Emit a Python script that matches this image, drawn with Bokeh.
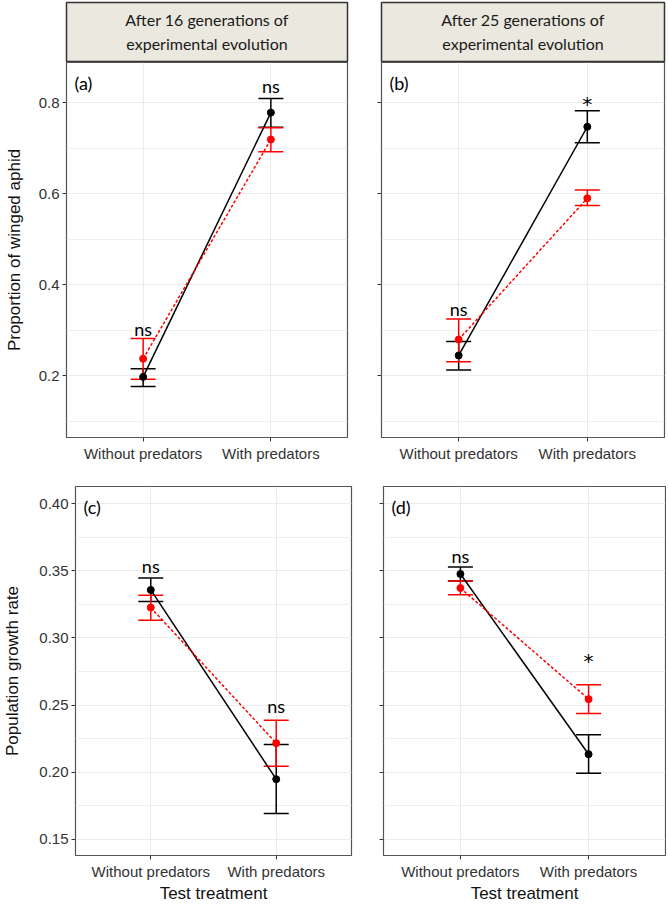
from bokeh.plotting import figure
from bokeh.layouts import column, row
from bokeh.models import (FixedTicker, Whisker, ColumnDataSource, TeeHead,
                          CustomJSTickFormatter, Range1d, Label, NumeralTickFormatter)
from bokeh.embed import file_html
from bokeh.resources import INLINE
from bokeh.core.properties import value

# ---------------- data ----------------
categories = ["Without predators", "With predators"]
x_pos = [1, 2]

headers = [["After 16 generations of", "experimental evolution"],
           ["After 25 generations of", "experimental evolution"]]

# panel (a) proportion winged, 16 generations
a_black_mean = [0.198, 0.778]
a_black_lower = [0.177, 0.746]
a_black_upper = [0.216, 0.809]
a_red_mean = [0.238, 0.719]
a_red_lower = [0.193, 0.692]
a_red_upper = [0.282, 0.745]
a_sig = ["ns", "ns"]
a_sig_y = [0.304, 0.836]

# panel (b) proportion winged, 25 generations
b_black_mean = [0.245, 0.747]
b_black_lower = [0.213, 0.712]
b_black_upper = [0.2755, 0.782]
b_red_mean = [0.280, 0.590]
b_red_lower = [0.231, 0.574]
b_red_upper = [0.325, 0.608]
b_sig = ["ns", "*"]
b_sig_y = [0.347, 0.798]

# panel (c) growth rate, 16 generations
c_black_mean = [0.3357, 0.1948]
c_black_lower = [0.3270, 0.1693]
c_black_upper = [0.3445, 0.2206]
c_red_mean = [0.3226, 0.2216]
c_red_lower = [0.3131, 0.2045]
c_red_upper = [0.3318, 0.2386]
c_sig = ["ns", "ns"]
c_sig_y = [0.3533, 0.2491]

# panel (d) growth rate, 25 generations
d_black_mean = [0.3476, 0.2134]
d_black_lower = [0.3424, 0.1993]
d_black_upper = [0.3527, 0.2278]
d_red_mean = [0.3371, 0.2544]
d_red_lower = [0.3322, 0.2437]
d_red_upper = [0.3424, 0.2651]
d_sig = ["ns", "*"]
d_sig_y = [0.3611, 0.2825]

panel_tags = ["(a)", "(b)", "(c)", "(d)"]

top_ticks = [0.2, 0.4, 0.6, 0.8]
top_minor = [0.1, 0.3, 0.5, 0.7]
bot_ticks = [0.15, 0.20, 0.25, 0.30, 0.35, 0.40]
bot_minor = [0.175, 0.225, 0.275, 0.325, 0.375]

top_ylabel = "Proportion of winged aphid"
bot_ylabel = "Population growth rate"
xlabel = "Test treatment"

# ---------------- style ----------------
AX_FONT = "Liberation Sans"
ANN_FONT = "Lato"
RED = "#ff0000"
GRID = "#ebebeb"


def header_fig(lines, width, left, right):
    h = figure(width=width, height=62, x_range=Range1d(0, 1), y_range=Range1d(0, 1),
               output_backend="svg", toolbar_location=None,
               min_border_left=left, min_border_right=right,
               min_border_top=2, min_border_bottom=0)
    h.axis.visible = False
    h.grid.visible = False
    h.background_fill_color = "#ebe9df"
    h.outline_line_color = "#333333"
    h.outline_line_width = 1.5
    h.text(x=[0.5, 0.5], y=[0.717, 0.317], text=lines, text_align="center",
           text_baseline="middle", text_font=value(ANN_FONT),
           text_font_size="16px", text_color="#1a1a1a")
    return h


def panel(width, height, left, right, bottom, top, yr, ticks, minor, fmt,
          bm, bl, bu, rm, rl, ru, sig, sig_y, tag, show_ylab, ylabel, show_xlab, ystand):
    p = figure(width=width, height=height, x_range=Range1d(0.4, 2.6), y_range=Range1d(*yr),
               output_backend="svg", toolbar_location=None,
               min_border_left=left, min_border_right=right,
               min_border_bottom=bottom, min_border_top=top)
    p.outline_line_color = "#555555"
    p.outline_line_width = 1.2
    p.background_fill_color = "white"

    p.xaxis.ticker = FixedTicker(ticks=x_pos)
    p.xaxis.major_label_overrides = {x: c for x, c in zip(x_pos, categories)}
    p.yaxis.ticker = FixedTicker(ticks=ticks, minor_ticks=minor)
    if show_ylab:
        p.yaxis.formatter = NumeralTickFormatter(format=fmt)
        p.yaxis.axis_label = ylabel
    else:
        p.yaxis.formatter = CustomJSTickFormatter(code="return ''")
    if show_xlab:
        p.xaxis.axis_label = xlabel
    for ax in p.axis:
        ax.axis_line_color = None
        ax.major_tick_line_color = "#333333"
        ax.major_tick_out = 4
        ax.major_tick_in = 0
        ax.minor_tick_line_color = None
        ax.major_label_text_font = AX_FONT
        ax.major_label_text_font_size = "15px"
        ax.major_label_text_color = "#333333"
        ax.major_label_standoff = 3
        ax.axis_label_text_font = AX_FONT
        ax.axis_label_text_font_size = "17px"
        ax.axis_label_text_font_style = "normal"
        ax.axis_label_text_color = "#111111"
    p.xaxis.axis_label_standoff = 1
    p.yaxis.axis_label_standoff = ystand
    p.xgrid.grid_line_color = GRID
    p.ygrid.grid_line_color = GRID
    p.ygrid.minor_grid_line_color = GRID
    p.ygrid.minor_grid_line_width = 0.8
    p.xgrid.ticker = FixedTicker(ticks=x_pos)

    # error bars
    for mean, lo, up, col in [(bm, bl, bu, "black"), (rm, rl, ru, RED)]:
        src = ColumnDataSource(dict(x=x_pos, lower=lo, upper=up))
        w = Whisker(base="x", lower="lower", upper="upper", source=src,
                    line_color=col, line_width=1.5,
                    upper_head=TeeHead(size=25, line_color=col, line_width=1.5),
                    lower_head=TeeHead(size=25, line_color=col, line_width=1.5))
        p.add_layout(w)
    p.line(x_pos, bm, line_color="black", line_width=1.5)
    p.line(x_pos, rm, line_color=RED, line_width=1.5, line_dash="3 2")
    p.scatter(x_pos, bm, size=7, color="black")
    p.scatter(x_pos, rm, size=7, color=RED)

    ns_x = [x for x, s in zip(x_pos, sig) if s != "*"]
    ns_y = [y for y, s in zip(sig_y, sig) if s != "*"]
    ns_t = [s for s in sig if s != "*"]
    st_x = [x for x, s in zip(x_pos, sig) if s == "*"]
    st_y = [y for y, s in zip(sig_y, sig) if s == "*"]
    st_t = [s for s in sig if s == "*"]
    if ns_t:
        p.text(x=ns_x, y=ns_y, text=ns_t, text_align="center", text_baseline="alphabetic",
               text_font=value(ANN_FONT), text_font_size="18px", text_color="black")
    if st_t:
        p.text(x=st_x, y=st_y, text=st_t, text_align="center", text_baseline="alphabetic",
               text_font=value("DejaVu Sans"), text_font_size="20px", text_color="black")
    p.add_layout(Label(x=0.4, y=yr[1], x_offset=8, y_offset=-20, text=tag,
                       text_baseline="middle", text_align="left",
                       text_font=ANN_FONT, text_font_size="18px", text_color="black"))
    return p


top_yr = (0.065, 0.888)
bot_yr = (0.138, 0.4127)

ha = header_fig(headers[0], 364, 66, 17)
hb = header_fig(headers[1], 302, 17, 2)

pa = panel(364, 424, 66, 17, 49, 0, top_yr, top_ticks, top_minor, "0.0",
           a_black_mean, a_black_lower, a_black_upper, a_red_mean, a_red_lower, a_red_upper,
           a_sig, a_sig_y, panel_tags[0], True, top_ylabel, False, 12)
pb = panel(302, 424, 17, 2, 49, 0, top_yr, top_ticks, top_minor, "0.0",
           b_black_mean, b_black_lower, b_black_upper, b_red_mean, b_red_lower, b_red_upper,
           b_sig, b_sig_y, panel_tags[1], False, top_ylabel, False, 12)
pc = panel(364, 419, 69, 13, 45, 0, bot_yr, bot_ticks, bot_minor, "0.00",
           c_black_mean, c_black_lower, c_black_upper, c_red_mean, c_red_lower, c_red_upper,
           c_sig, c_sig_y, panel_tags[2], True, bot_ylabel, True, 14)
pd_ = panel(302, 419, 19, 1, 45, 0, bot_yr, bot_ticks, bot_minor, "0.00",
            d_black_mean, d_black_lower, d_black_upper, d_red_mean, d_red_lower, d_red_upper,
            d_sig, d_sig_y, panel_tags[3], False, bot_ylabel, True, 12)

layout = column(row(column(ha, pa), column(hb, pb)), row(pc, pd_))

open("out.html", "w").write(file_html(layout, INLINE))
